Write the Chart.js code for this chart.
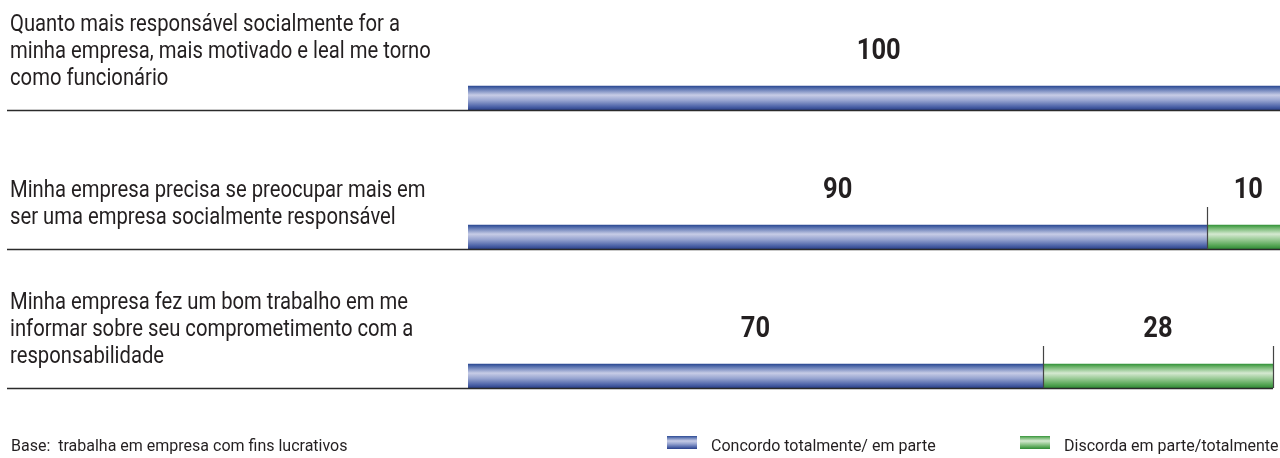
<!DOCTYPE html>
<html lang="pt-BR">
<head>
<meta charset="utf-8">
<title>Responsabilidade social</title>
<script src="https://cdn.jsdelivr.net/npm/chart.js@4.4.1/dist/chart.umd.min.js"></script>
<style>
	html, body { margin: 0; padding: 0; background: #fff; overflow: hidden; }
	#grafico { position: relative; width: 1292px; height: 458px; }
</style>
</head>
<body>
<div id="grafico"><canvas id="myChart"></canvas></div>
<script>
// frases (uma linha por item)
var categorias = [
	["Quanto mais responsável socialmente for a", "minha empresa, mais motivado e leal me torno", "como funcionário"],
	["Minha empresa precisa se preocupar mais em", "ser uma empresa socialmente responsável"],
	["Minha empresa fez um bom trabalho em me", "informar sobre seu comprometimento com a", "responsabilidade"]
];
var concordo = [100, 90, 70];
var discorda = [0, 10, 28];
var series = ["Concordo totalmente/ em parte", "Discorda em parte/totalmente"];
var nota = "Base:  trabalha em empresa com fins lucrativos";

var corTexto = '#231f20';
var azul = ['#2b4992', '#5d75b2', '#c7cce6', '#97a4d0', '#5066aa', '#2a4089'];
var verde = ['#34933a', '#6db46b', '#d5e9d1', '#9bcb97', '#56a655', '#2f8935'];
var paradas = [0, 0.12, 0.38, 0.6, 0.85, 1];
var espessura = 24;

function gradiente(ctx, y0, y1, cores) {
	var g = ctx.createLinearGradient(0, y0, 0, y1);
	for (var k = 0; k < cores.length; k++) {
		g.addColorStop(paradas[k], cores[k]);
	}
	return g;
}

function corBarra(cores) {
	return function(context) {
		var chart = context.chart;
		var escalaY = chart.scales.y;
		if (!chart.chartArea || !escalaY || context.dataIndex === undefined) return cores[2];
		var meio = escalaY.getPixelForValue(context.dataIndex);
		return gradiente(chart.ctx, meio - espessura / 2, meio + espessura / 2, cores);
	};
}

// texto levemente condensado
function escrever(ctx, texto, x, y, fonte, escala, alinhar) {
	ctx.save();
	ctx.font = fonte;
	ctx.fillStyle = corTexto;
	ctx.textAlign = alinhar || 'left';
	ctx.textBaseline = 'alphabetic';
	ctx.translate(x, y);
	ctx.scale(escala, 1);
	ctx.fillText(texto, 0, 0);
	ctx.restore();
}

var extras = {
	id: 'extras',
	afterDatasetsDraw: function(chart) {
		var ctx = chart.ctx;
		var sx = chart.scales.x;
		var sy = chart.scales.y;

		for (var i = 0; i < categorias.length; i++) {
			var meio = sy.getPixelForValue(i);
			var topo = meio - espessura / 2;
			var base = meio + espessura / 2;
			var partes = [concordo[i], discorda[i]];
			var fim = sx.getPixelForValue(concordo[i] + discorda[i]);

			// linha de base sob a frase e a barra
			ctx.save();
			ctx.strokeStyle = '#2b2b2b';
			ctx.lineWidth = 1.5;
			ctx.beginPath();
			ctx.moveTo(7, base + 0.5);
			ctx.lineTo(fim, base + 0.5);
			ctx.stroke();
			ctx.restore();

			// frase à esquerda, alinhada por baixo
			var linhas = categorias[i];
			for (var k = 0; k < linhas.length; k++) {
				var yl = base - 25 - (linhas.length - 1 - k) * 27;
				escrever(ctx, linhas[k], 10, yl, '23px Roboto', 0.88, 'left');
			}

			// valores e marcas verticais
			var acumulado = 0;
			for (var p = 0; p < partes.length; p++) {
				if (!partes[p]) continue;
				var x0 = sx.getPixelForValue(acumulado);
				acumulado += partes[p];
				var x1 = sx.getPixelForValue(acumulado);

				ctx.save();
				ctx.strokeStyle = '#444';
				ctx.lineWidth = 1.2;
				ctx.beginPath();
				ctx.moveTo(Math.round(x1) + 0.5, topo - 18);
				ctx.lineTo(Math.round(x1) + 0.5, base);
				ctx.stroke();
				ctx.restore();

				escrever(ctx, String(partes[p]), (x0 + x1) / 2, meio - 39, 'bold 29px Roboto', 0.88, 'center');
			}
		}

		// nota e legenda
		var yRodape = 451;
		escrever(ctx, nota, 11, yRodape, '16px Roboto', 1, 'left');

		var legenda = [
			{ texto: series[0], cores: azul, x: 667 },
			{ texto: series[1], cores: verde, x: 1020 }
		];
		for (var j = 0; j < legenda.length; j++) {
			var item = legenda[j];
			ctx.save();
			ctx.fillStyle = gradiente(ctx, 436, 449, item.cores);
			ctx.fillRect(item.x, 436, 30, 13);
			ctx.restore();
			escrever(ctx, item.texto, item.x + 44, yRodape, '16px Roboto', 1, 'left');
		}
	}
};

var ctx = document.getElementById('myChart').getContext('2d');
var chart = new Chart(ctx, {
	type: 'bar',
	data: {
		labels: categorias.map(function(l) { return l.join(' '); }),
		datasets: [{
			label: series[0],
			data: concordo,
			backgroundColor: corBarra(azul),
			borderWidth: 0,
			barThickness: espessura
		}, {
			label: series[1],
			data: discorda,
			backgroundColor: corBarra(verde),
			borderWidth: 0,
			barThickness: espessura
		}]
	},
	options: {
		indexAxis: 'y',
		responsive: true,
		maintainAspectRatio: false,
		animation: false,
		layout: {
			padding: { left: 468, right: 2.6, top: 28.5, bottom: 12.5 }
		},
		scales: {
			x: { stacked: true, min: 0, max: 100, display: false },
			y: { stacked: true, display: false }
		},
		plugins: {
			legend: { display: false },
			tooltip: { enabled: false }
		}
	},
	plugins: [extras]
});
</script>
</body>
</html>
